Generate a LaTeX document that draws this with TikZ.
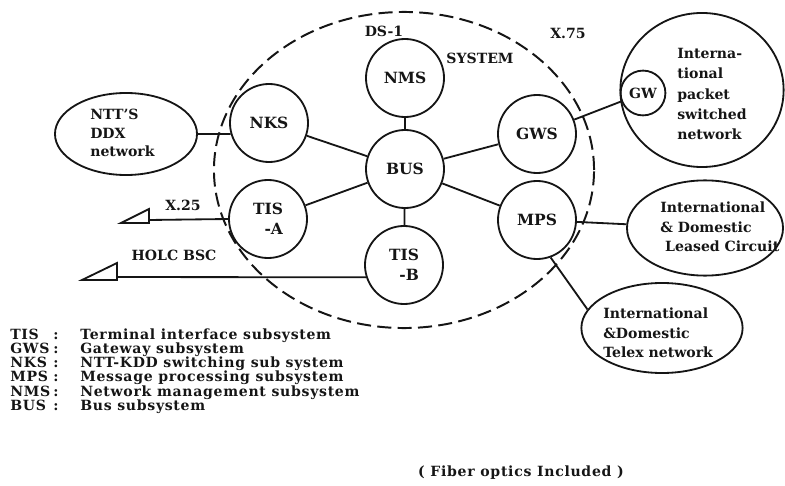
\documentclass[tikz,border=0pt]{standalone}
\usepackage{fontspec}
\setmainfont{DejaVu Serif}
\newfontfamily\legfont[LetterSpace=5]{DejaVu Serif}
\usetikzlibrary{shapes.geometric,positioning,calc}
\definecolor{ink}{HTML}{151515}
\tikzset{
  subsys/.style={circle,draw=ink,line width=1.3pt,minimum size=1.95cm,inner sep=0pt,
                 text=ink,font=\bfseries\fontsize{11}{14}\selectfont,align=center},
  netw/.style={ellipse,draw=ink,line width=1.3pt,inner sep=0pt},
  lbl/.style={text=ink,font=\bfseries\fontsize{10}{14}\selectfont,inner sep=0pt},
  leg/.style={text=ink,font=\legfont\bfseries\fontsize{10}{14}\selectfont,inner sep=0pt},
  link/.style={draw=ink,line width=1.3pt},
}
\newcommand{\termtri}[3]{%
  \draw[link,line join=miter] (#1) ++(0,3) -- ++(-#2,0) -- ++(#2,-#3) -- cycle;}

\begin{document}
\begin{tikzpicture}[x=0.025cm,y=-0.025cm]
  \useasboundingbox (0,0) rectangle (785,486);

  % system boundary
  \node[ellipse,draw=ink,line width=1.4pt,dash pattern=on 10pt off 4.5pt,
        minimum width=9.5cm,minimum height=7.9cm] (sys) at (404,170) {};
  \node[lbl] (ds) at (384,31) {DS-1};
  \node[lbl] (systx) at (480,58) {SYSTEM};
  \node[lbl] (x75) at (568,33) {X.75};

  % subsystems
  \node[subsys] (nms) at (405,78) {NMS};
  \node[subsys] (bus) at (405,169) {BUS};
  \node[subsys] (nks) at (269,123) {NKS};
  \node[subsys,align=right] (tisa) at (268,219) {TIS\\-A};
  \node[subsys,align=right] (tisb) at (404,265) {TIS\\-B};
  \node[subsys] (gws) at (537,134) {GWS};
  \node[subsys] (mps) at (537,220) {MPS};

  % outside networks
  \node[netw,minimum width=3.55cm,minimum height=2.05cm] (ddx) at (126,134) {};
  \node[lbl,align=left,anchor=west,font=\bfseries\fontsize{10}{13}\selectfont]
       (ddxtx) at (90,133) {NTT'S\\DDX\\network};
  \node[netw,minimum width=4.08cm,minimum height=3.85cm] (ipsn) at (702,90) {};
  \node[subsys,minimum size=1.12cm,font=\bfseries\fontsize{10}{12}\selectfont] (gw) at (643,93) {GW};
  \node[lbl,align=left,anchor=west,font=\bfseries\fontsize{10}{14.5}\selectfont]
       (ipsntx) at (677,94) {Interna-\\tional\\packet\\switched\\network};
  \node[netw,minimum width=3.9cm,minimum height=2.38cm] (leased) at (705,228) {};
  \node[lbl,align=left,anchor=west] (leasedtx) at (660,227)
       {International\\\& Domestic\\\ Leased Circuit};
  \node[netw,minimum width=4.03cm,minimum height=2.25cm] (telex) at (662,328) {};
  \node[lbl,align=left,anchor=west] (telextx) at (603,333)
       {International\\\&Domestic\\Telex network};

  % links
  \draw[link] (nms) -- (bus);
  \draw[link] (bus) -- (tisb);
  \draw[link] (nks) -- (bus);
  \draw[link] (tisa) -- (bus);
  \draw[link] (bus) -- (gws);
  \draw[link] (bus) -- (mps);
  \draw[link] (gws) -- (gw);
  \draw[link] (mps) -- (leased);
  \draw[link] (mps.290) -- (telex.166);
  \draw[link] (ddx.east) -- (nks.196);

  % terminal lines
  \coordinate (x25end) at (149,220);
  \coordinate (holcend) at (117,277);
  \draw[link] (tisa.west) -- (x25end);
  \draw[link] (tisb.198) -- (holcend);
  \termtri{x25end}{28}{14}
  \termtri{holcend}{35}{17}
  \node[lbl] (x25) at (183,205) {X.25};
  \node[lbl] (holc) at (174,255) {HOLC BSC};

  % legend
  \foreach \ab/\tx [count=\k] in {TIS/Terminal interface subsystem,
      GWS/Gateway subsystem, NKS/NTT-KDD switching sub system,
      MPS/Message processing subsystem, NMS/Network management subsystem,
      BUS/Bus subsystem}{
    \node[leg,anchor=base west] (ab\k) at (10,{325+14.2*\k}) {\ab};
    \node[leg,anchor=base] (col\k) at (56,{325+14.2*\k}) {:};
    \node[leg,anchor=base west] (tx\k) at (80,{325+14.2*\k}) {\tx};
  }
  \node[leg] (fiber) at (521,473) {( Fiber optics Included )};
\end{tikzpicture}
\end{document}
